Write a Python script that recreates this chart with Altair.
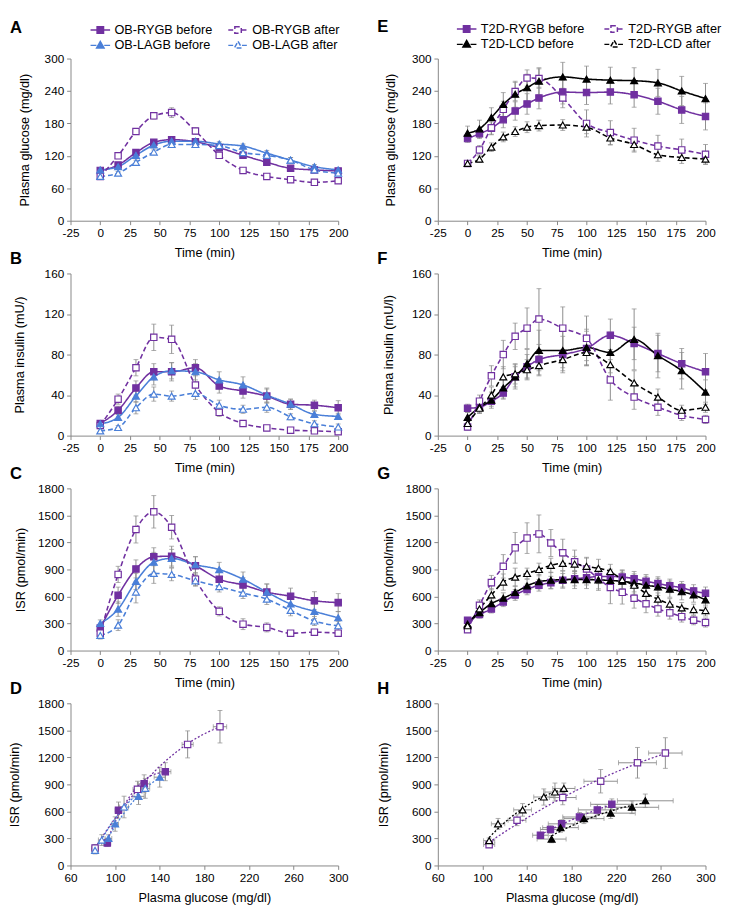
import altair as alt
import pandas as pd

PURPLE = "#7030A0"
BLUE = "#4A7FD8"
BLACK = "#000000"
GRAY = "#8C8C8C"
FONT = "Liberation Sans"

# ---------------- data ----------------
t_ob = [0, 15, 30, 45, 60, 80, 100, 120, 140, 160, 180, 200]
t_t2d = [0, 10, 20, 30, 40, 50, 60, 80, 100, 120, 140, 160, 180, 200]
t_t2d_isr = [0, 10, 20, 30, 40, 50, 60, 70, 80, 90, 100, 110, 120, 130, 140, 150, 160, 170, 180, 190, 200]

# order = legend order (two columns, filled column by column)
ob_series = ["OB-RYGB before", "OB-LAGB before", "OB-RYGB after", "OB-LAGB after"]
t2d_series = ["T2D-RYGB before", "T2D-LCD before", "T2D-RYGB after", "T2D-LCD after"]

# Panel A: plasma glucose (mg/dl), OB
ob_glucose = {
    "OB-RYGB before": [93, 103, 126, 145, 150, 146, 135, 121, 108, 97, 94, 92],
    "OB-RYGB after": [82, 120, 165, 194, 200, 166, 121, 93, 82, 76, 71, 74],
    "OB-LAGB before": [94, 100, 121, 140, 147, 147, 142, 138, 125, 112, 100, 94],
    "OB-LAGB after": [82, 88, 108, 127, 141, 141, 139, 126, 121, 112, 94, 88],
}
ob_glucose_sem = {
    "OB-RYGB before": [3, 3, 5, 5, 5, 5, 5, 4, 4, 3, 3, 3],
    "OB-RYGB after": [3, 4, 5, 6, 9, 6, 6, 4, 3, 3, 3, 3],
    "OB-LAGB before": [3, 3, 5, 5, 5, 5, 4, 4, 5, 5, 4, 3],
    "OB-LAGB after": [3, 3, 4, 4, 4, 4, 4, 5, 5, 5, 4, 3],
}
# Panel B: plasma insulin, OB
ob_insulin = {
    "OB-RYGB before": [12, 25, 47, 63, 63, 67, 49, 44, 39, 31, 30, 27.5],
    "OB-RYGB after": [10, 36, 67, 97, 95, 50, 23, 12, 7.6, 5.4, 4.7, 3.8],
    "OB-LAGB before": [11.7, 18, 39, 58, 64, 63, 55, 50, 40, 31, 21, 19],
    "OB-LAGB after": [4.7, 8, 27.5, 41, 39, 41.7, 30, 26, 28, 18.6, 11.7, 8.5],
}
ob_insulin_sem = {
    "OB-RYGB before": [2, 4, 7, 8, 9, 8, 7, 7, 7, 5, 5, 7],
    "OB-RYGB after": [2, 5, 8, 13, 14, 10, 4, 2, 2, 1, 1, 1],
    "OB-LAGB before": [2, 3, 6, 8, 8, 8, 8, 8, 7, 5, 3, 3],
    "OB-LAGB after": [2, 2, 6, 7, 5, 6, 5, 4, 5, 3, 3, 3],
}
# Panel C: ISR (pmol/min), OB
ob_isr = {
    "OB-RYGB before": [250, 614, 906, 1041, 1048, 941, 792, 728, 649, 603, 553, 532],
    "OB-RYGB after": [193, 845, 1344, 1540, 1369, 792, 435, 293, 257, 193, 204, 193],
    "OB-LAGB before": [300, 460, 767, 980, 1023, 952, 899, 792, 649, 517, 435, 364],
    "OB-LAGB after": [168, 282, 649, 856, 845, 774, 710, 638, 571, 446, 328, 275],
}
ob_isr_sem = {
    "OB-RYGB before": [40, 90, 100, 100, 110, 100, 90, 80, 90, 90, 100, 100],
    "OB-RYGB after": [40, 90, 150, 180, 130, 70, 50, 60, 50, 30, 30, 30],
    "OB-LAGB before": [40, 80, 90, 110, 100, 90, 80, 80, 90, 90, 80, 70],
    "OB-LAGB after": [40, 60, 120, 110, 70, 60, 60, 60, 60, 60, 50, 50],
}
# Panel E: plasma glucose, T2D
t2d_glucose = {
    "T2D-RYGB before": [152, 161, 171, 187, 203, 216, 227, 238, 237, 238, 233, 221, 205, 193],
    "T2D-RYGB after": [106, 131, 172, 206, 239, 264, 263, 227, 180, 163, 149, 138, 131, 123],
    "T2D-LCD before": [162, 170, 191, 215, 234, 246, 258, 266, 262, 260, 259, 255, 240, 226],
    "T2D-LCD after": [106, 114, 136, 155, 165, 173, 176, 177, 173, 153, 141, 122, 117, 114],
}
t2d_glucose_sem = {
    "T2D-RYGB before": [7, 9, 12, 15, 17, 19, 20, 22, 22, 22, 23, 24, 25, 25],
    "T2D-RYGB after": [5, 8, 12, 15, 17, 15, 18, 18, 25, 22, 22, 20, 20, 18],
    "T2D-LCD before": [13, 16, 18, 22, 24, 25, 25, 27, 24, 24, 24, 25, 27, 28],
    "T2D-LCD after": [5, 6, 8, 9, 9, 10, 10, 10, 12, 13, 12, 12, 11, 10],
}
# Panel F: plasma insulin, T2D
t2d_insulin = {
    "T2D-RYGB before": [27, 28, 34, 42, 58, 68, 75, 80, 86, 99, 91, 81, 71, 63],
    "T2D-RYGB after": [8.5, 34, 59, 80, 98, 106, 115, 106, 96, 55, 38, 28, 20, 16],
    "T2D-LCD before": [18, 28, 35, 47, 58, 71, 84, 84, 87, 82, 95, 79, 64, 43],
    "T2D-LCD after": [12, 27, 40, 58, 61, 65, 69, 75, 82, 70, 52, 38, 25, 28],
}
t2d_insulin_sem = {
    "T2D-RYGB before": [4, 5, 5, 6, 10, 12, 15, 18, 17, 16, 16, 18, 15, 18],
    "T2D-RYGB after": [3, 6, 10, 14, 13, 20, 30, 21, 22, 20, 12, 8, 5, 4],
    "T2D-LCD before": [5, 6, 8, 10, 12, 14, 20, 20, 18, 20, 30, 22, 18, 12],
    "T2D-LCD after": [3, 5, 8, 10, 10, 10, 10, 8, 12, 15, 12, 8, 5, 5],
}
# Panel G: ISR, T2D
t2d_isr = {
    "T2D-RYGB before": [336, 400, 462, 538, 617, 679, 725, 754, 780, 798, 808, 823, 823, 816, 798, 769, 744, 718, 697, 661, 635],
    "T2D-RYGB after": [231, 502, 754, 935, 1140, 1248, 1295, 1194, 1086, 985, 906, 798, 700, 646, 581, 520, 462, 419, 376, 336, 311],
    "T2D-LCD before": [293, 420, 520, 581, 646, 718, 765, 780, 787, 788, 788, 785, 778, 769, 751, 725, 707, 682, 653, 617, 563],
    "T2D-LCD after": [275, 462, 617, 760, 815, 855, 900, 945, 967, 960, 935, 913, 877, 787, 725, 635, 570, 516, 473, 455, 444],
}
t2d_isr_sem = {
    "T2D-RYGB before": [30, 40, 45, 50, 60, 60, 65, 70, 75, 80, 80, 80, 80, 80, 80, 75, 75, 75, 70, 70, 70],
    "T2D-RYGB after": [30, 60, 80, 130, 170, 170, 210, 150, 150, 130, 120, 130, 180, 130, 110, 100, 80, 70, 60, 50, 50],
    "T2D-LCD before": [40, 50, 55, 60, 70, 75, 80, 90, 95, 100, 100, 100, 100, 100, 100, 100, 95, 90, 90, 80, 80],
    "T2D-LCD after": [30, 60, 70, 90, 100, 60, 70, 80, 80, 85, 100, 100, 80, 100, 100, 80, 70, 60, 60, 60, 60],
}
# Panels D / H use the early time points (0-45 min for OB, 0-50 min for T2D)
n_ob_scatter = 4
n_t2d_scatter = 6


# ---------------- helpers ----------------
def color_of(s):
    if "RYGB" in s:
        return PURPLE
    if "LAGB" in s:
        return BLUE
    return BLACK


def fill_of(s):
    return color_of(s) if s.endswith("before") else "white"


def dash_of(s):
    return [1, 0] if s.endswith("before") else [5, 3]


# legend glyphs: line stub - marker - line stub (symbol box is 10 px, glyph spans 20 px)
SQ_LEG = "M-2,0H-0.72M0.72,0H2M-0.66,-0.66H0.66V0.66H-0.66Z"
TRI_LEG = "M-2,0H-0.8M0.8,0H2M0,-0.8L0.76,0.54L-0.76,0.54Z"


def legend_shape(s):
    return SQ_LEG if "RYGB" in s else TRI_LEG


def long_df(times, values, errs, series):
    rows = []
    for s in series:
        for t, v, e in zip(times, values[s], errs[s]):
            rows.append({"series": s, "t": t, "v": v, "lo": v - e, "hi": v + e})
    return pd.DataFrame(rows)


def scatter_df(n, glu, glu_err, isr, isr_err, series):
    rows = []
    for s in series:
        for i in range(n):
            g, ge, v, ve = glu[s][i], glu_err[s][i], isr[s][i], isr_err[s][i]
            rows.append({"series": s, "g": g, "glo": g - ge, "ghi": g + ge,
                         "v": v, "lo": v - ve, "hi": v + ve})
    return pd.DataFrame(rows)


def scales(series):
    return dict(
        color=alt.Scale(domain=series, range=[color_of(s) for s in series]),
        fill=alt.Scale(domain=series, range=[fill_of(s) for s in series]),
        dash=alt.Scale(domain=series, range=[dash_of(s) for s in series]),
        shape=alt.Scale(domain=series, range=[legend_shape(s) for s in series]),
    )


def title(letter, offset=0):
    return alt.TitleParams(letter, anchor="start", frame="group", dx=-62, offset=offset,
                           fontSize=17, fontWeight="bold", font=FONT)


def point_layers(base, series, x, y, sc):
    squares = [s for s in series if "RYGB" in s]
    tris = [s for s in series if "RYGB" not in s]
    layers = []
    for shape, members, size in (("square", squares, 42), ("triangle-up", tris, 50)):
        layers.append(
            base.transform_filter(alt.FieldOneOfPredicate(field="series", oneOf=members))
            .mark_point(shape=shape, size=size, filled=False, strokeWidth=1.2, opacity=1)
            .encode(x=x, y=y,
                    color=alt.Color("series:N", scale=sc["color"], legend=None),
                    fill=alt.Fill("series:N", scale=sc["fill"], legend=None))
        )
    return layers


def legend_layer(base, series, x, y, sc, lx, ly, colpad):
    return (
        base.transform_filter("false")
        .mark_point(filled=False, strokeWidth=1.5, opacity=1)
        .encode(
            x=x, y=y,
            color=alt.Color("series:N", scale=sc["color"],
                            legend=alt.Legend(orient="none", legendX=lx, legendY=ly, columns=2,
                                              title=None, symbolSize=100, symbolStrokeWidth=1.5,
                                              labelFontSize=13, labelFont=FONT, labelColor="black",
                                              labelOffset=8, columnPadding=colpad, rowPadding=1,
                                              labelLimit=200, padding=0)),
            shape=alt.Shape("series:N", scale=sc["shape"]),
            fill=alt.Fill("series:N", scale=sc["fill"]),
            strokeDash=alt.StrokeDash("series:N", scale=sc["dash"]),
        )
    )


W, H = 274, 166
IND = dict(color="independent", fill="independent", shape="independent", strokeDash="independent")


def time_panel(df, series, ydom, ystep, ytitle, letter, ypad, legend=None, toff=0):
    sc = scales(series)
    base = alt.Chart(df)
    xs = alt.Scale(domain=[-25, 200], nice=False)
    xa = alt.Axis(values=list(range(-25, 201, 25)), labelExpr="'' + datum.value", labelFlush=False)
    ys = alt.Scale(domain=ydom, nice=False)
    ya = alt.Axis(values=list(range(ydom[0], ydom[1] + 1, ystep)), format="d", titlePadding=ypad)
    x = alt.X("t:Q", title="Time (min)", scale=xs, axis=xa)
    y = alt.Y("v:Q", title=ytitle, scale=ys, axis=ya)
    err = base.mark_errorbar(ticks=True, size=5, thickness=1, color=GRAY).encode(
        x=x, y=alt.Y("lo:Q", title=ytitle, scale=ys, axis=ya), y2="hi:Q")
    line = base.mark_line(strokeWidth=1.6, interpolate="monotone").encode(
        x=x, y=y,
        color=alt.Color("series:N", scale=sc["color"], legend=None),
        strokeDash=alt.StrokeDash("series:N", scale=sc["dash"], legend=None))
    layers = [err, line] + point_layers(base, series, x, y, sc)
    if legend is not None:
        layers.append(legend_layer(base, series, x, y, sc, *legend))
    ch = alt.layer(*layers).properties(width=W, height=H, title=title(letter, toff))
    return ch.resolve_legend(**IND)


def scatter_panel(df, series, letter, ypad):
    sc = scales(series)
    base = alt.Chart(df)
    xs = alt.Scale(domain=[60, 300], nice=False)
    xa = alt.Axis(values=list(range(60, 301, 40)), labelFlush=False)
    ys = alt.Scale(domain=[0, 1800], nice=False)
    ya = alt.Axis(values=list(range(0, 1801, 300)), format="d", titlePadding=ypad)
    xt = "Plasma glucose (mg/dl)"
    yt = "ISR (pmol/min)"
    x = alt.X("g:Q", title=xt, scale=xs, axis=xa)
    y = alt.Y("v:Q", title=yt, scale=ys, axis=ya)
    yerr = base.mark_errorbar(ticks=True, size=5, thickness=1, color=GRAY).encode(
        x=x, y=alt.Y("lo:Q", title=yt, scale=ys, axis=ya), y2="hi:Q")
    xerr = base.mark_errorbar(ticks=True, size=5, thickness=1, color=GRAY).encode(
        x=alt.X("glo:Q", title=xt, scale=xs, axis=xa), x2="ghi:Q", y=y)
    trend = base.transform_regression("g", "v", groupby=["series"], method="poly", order=2).mark_line(
        strokeDash=[2, 2], strokeWidth=1.3).encode(
        x=x, y=y, color=alt.Color("series:N", scale=sc["color"], legend=None))
    layers = [yerr, xerr, trend] + point_layers(base, series, x, y, sc)
    ch = alt.layer(*layers).properties(width=W, height=H, title=title(letter))
    return ch.resolve_legend(color="independent", fill="independent")


# ---------------- panels ----------------
A = time_panel(long_df(t_ob, ob_glucose, ob_glucose_sem, ob_series), ob_series,
               [0, 300], 60, "Plasma glucose (mg/dl)", "A", 13, legend=(24, -36, 12), toff=-14)
B = time_panel(long_df(t_ob, ob_insulin, ob_insulin_sem, ob_series), ob_series,
               [0, 160], 40, "Plasma insulin (mU/)", "B", 18)
C = time_panel(long_df(t_ob, ob_isr, ob_isr_sem, ob_series), ob_series,
               [0, 1800], 300, "ISR (pmol/min)", "C", 10)
D = scatter_panel(scatter_df(n_ob_scatter, ob_glucose, ob_glucose_sem, ob_isr, ob_isr_sem, ob_series),
                  ob_series, "D", 17)
E = time_panel(long_df(t_t2d, t2d_glucose, t2d_glucose_sem, t2d_series), t2d_series,
               [0, 300], 60, "Plasma glucose (mg/dl)", "E", 14, legend=(23, -37, 17), toff=-14)
F = time_panel(long_df(t_t2d, t2d_insulin, t2d_insulin_sem, t2d_series), t2d_series,
               [0, 160], 40, "Plasma insulin (mU/l)", "F", 16)
G = time_panel(long_df(t_t2d_isr, t2d_isr, t2d_isr_sem, t2d_series), t2d_series,
               [0, 1800], 300, "ISR (pmol/min)", "G", 10)

# H pairs glucose at 0-50 min (panel E) with ISR at 0-50 min (panel G)
t2d_glu_early = {s: t2d_glucose[s][:n_t2d_scatter] for s in t2d_series}
t2d_glu_early_sem = {s: t2d_glucose_sem[s][:n_t2d_scatter] for s in t2d_series}
H = scatter_panel(scatter_df(n_t2d_scatter, t2d_glu_early, t2d_glu_early_sem, t2d_isr, t2d_isr_sem, t2d_series),
                  t2d_series, "H", 15)

chart = (
    alt.concat(A, E, B, F, C, G, D, H, columns=2, spacing={"row": 54, "column": 102}, bounds="flush")
    .resolve_scale(**IND)
    .resolve_legend(**IND)
    .properties(padding={"left": 0, "top": 0, "right": 5, "bottom": 2})
    .configure_view(stroke=None)
    .configure_axis(domainColor="#868686", tickColor="#868686", labelColor="black", labelFont=FONT,
                    labelFontSize=12, titleFont=FONT, titleFontSize=13, titleFontWeight="normal",
                    titleColor="black", grid=False, tickSize=4, labelPadding=3)
    .configure_axisX(titlePadding=9)
    .configure_title(color="black")
)

chart.save("out.html", embed_options={"renderer": "svg", "actions": False})
